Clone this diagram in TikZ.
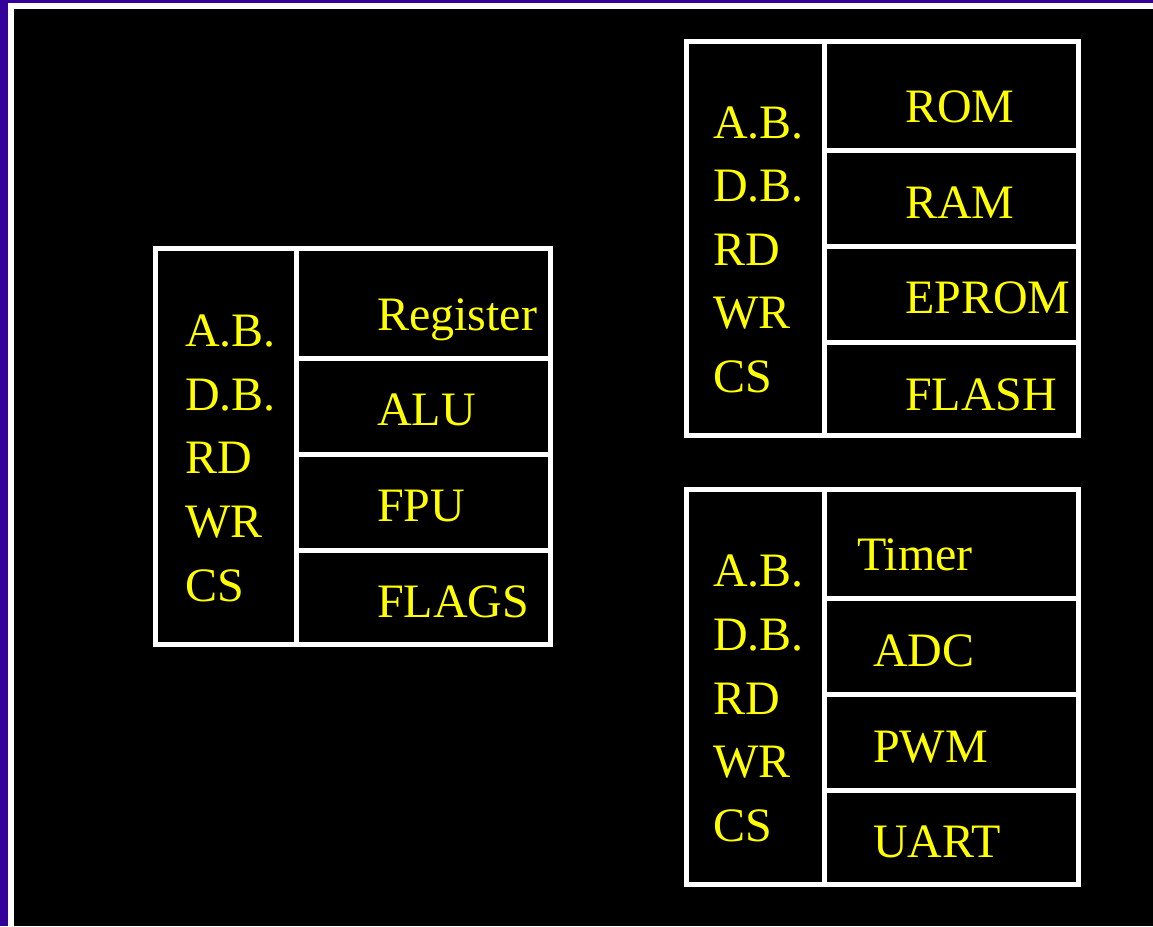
\documentclass[tikz,border=0pt]{standalone}
\usepackage{fontspec}
\setmainfont{Liberation Serif}
\definecolor{frameblue}{RGB}{51,0,153}
\definecolor{txtyellow}{RGB}{255,255,0}
\begin{document}
\begin{tikzpicture}[x=1pt,y=-1pt,
  lbl/.style={text=txtyellow, font=\fontsize{48}{58}\selectfont, inner sep=0pt, anchor=base west},
  gridline/.style={draw=white, line width=5pt}]
\useasboundingbox (0,0) rectangle (1153,926);
% background and frame
\fill[black] (0,0) rectangle (1153,926);
\fill[frameblue] (0,0) rectangle (8,926);
\fill[frameblue] (0,0) rectangle (1153,3);
\fill[white] (8,3) rectangle (14,926);
\fill[white] (8,3) rectangle (1153,9);

% ---------- left box ----------
\draw[gridline] (155.5,248.5) rectangle (550.5,644.5);
\draw[gridline] (296.5,248.5) -- (296.5,644.5);
\draw[gridline] (296.5,358) -- (550.5,358);
\draw[gridline] (296.5,454.5) -- (550.5,454.5);
\draw[gridline] (296.5,550.5) -- (550.5,550.5);
\node[lbl] (l1) at (185,346) {A.B.};
\node[lbl] (l2) at (185,410) {D.B.};
\node[lbl] (l3) at (185,473) {RD};
\node[lbl] (l4) at (185,537) {WR};
\node[lbl] (l5) at (185,601) {CS};
\node[lbl] (lreg) at (377,330) {Register};
\node[lbl] (lalu) at (377,425) {ALU};
\node[lbl] (lfpu) at (377,521) {FPU};
\node[lbl] (lflg) at (377,617) {FLAGS};

% ---------- top right box ----------
\draw[gridline] (686.5,41) rectangle (1078.5,435.5);
\draw[gridline] (824.5,41) -- (824.5,435.5);
\draw[gridline] (824.5,150) -- (1078.5,150);
\draw[gridline] (824.5,246.5) -- (1078.5,246.5);
\draw[gridline] (824.5,342) -- (1078.5,342);
\node[lbl] (t1) at (713,138) {A.B.};
\node[lbl] (t2) at (713,201) {D.B.};
\node[lbl] (t3) at (713,265) {RD};
\node[lbl] (t4) at (713,328) {WR};
\node[lbl] (t5) at (713,392) {CS};
\node[lbl] (trom) at (905,122) {ROM};
\node[lbl] (tram) at (905,218) {RAM};
\node[lbl] (tepr) at (905,313) {EPROM};
\node[lbl] (tfla) at (905,410) {FLASH};

% ---------- bottom right box ----------
\draw[gridline] (686.5,489.5) rectangle (1078.5,884);
\draw[gridline] (824.5,489.5) -- (824.5,884);
\draw[gridline] (824.5,598) -- (1078.5,598);
\draw[gridline] (824.5,694.5) -- (1078.5,694.5);
\draw[gridline] (824.5,790.5) -- (1078.5,790.5);
\node[lbl] (b1) at (713,586) {A.B.};
\node[lbl] (b2) at (713,650) {D.B.};
\node[lbl] (b3) at (713,714) {RD};
\node[lbl] (b4) at (713,777) {WR};
\node[lbl] (b5) at (713,841) {CS};
\node[lbl] (btim) at (857,570) {Timer};
\node[lbl] (badc) at (873,666) {ADC};
\node[lbl] (bpwm) at (873,762) {PWM};
\node[lbl] (buar) at (873,857) {UART};
\end{tikzpicture}
\end{document}
